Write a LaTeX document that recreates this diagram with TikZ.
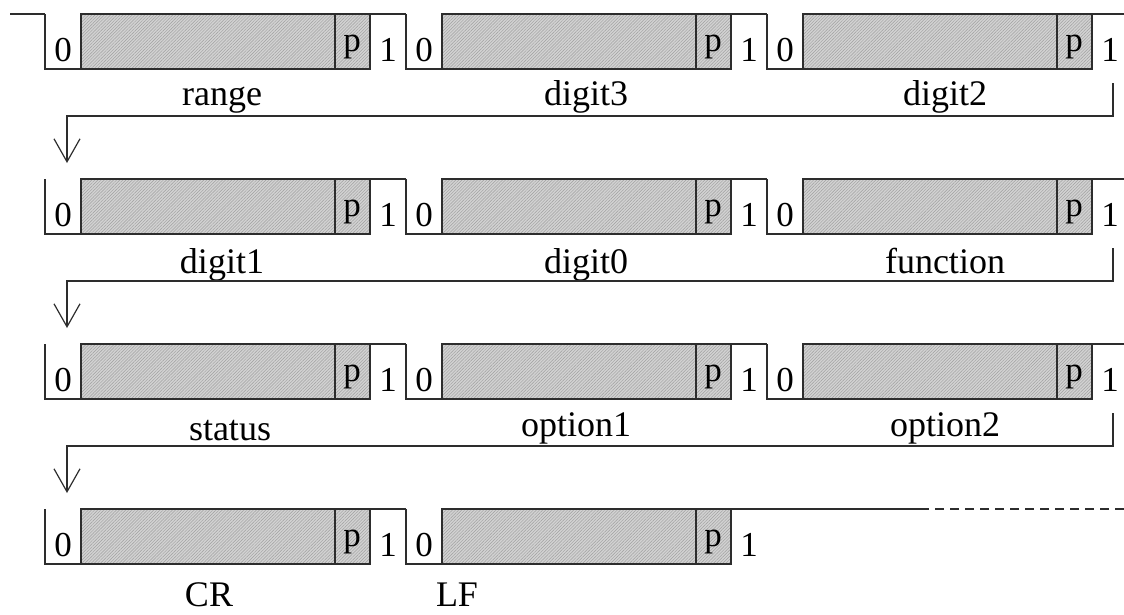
\documentclass[tikz,border=0pt]{standalone}
\usepackage{fontspec}
\setmainfont{Liberation Serif}
\usetikzlibrary{arrows.meta,patterns.meta}
\definecolor{hatchfill}{RGB}{210,210,210}
\definecolor{lin}{RGB}{45,45,45}
\begin{document}
\begin{tikzpicture}[x=1pt,y=-1pt,line width=1.2pt,
  wave/.style={draw=lin},
  databox/.style={draw=lin,preaction={fill=hatchfill},pattern={Lines[angle=45,distance=2.2pt,line width=0.45pt]},pattern color=gray!75},
  bit/.style={font=\fontsize{35}{40}\selectfont,anchor=base,inner sep=0pt},
  lbl/.style={font=\fontsize{36}{42}\selectfont,anchor=base,inner sep=0pt},
  ret/.style={draw=lin,-{Straight Barb[length=23pt,width=26pt,line width=1.2pt]}}]
\useasboundingbox (0,0) rectangle (1124,614);
% idle stub
\coordinate (idle) at (10,14);
\coordinate (s10) at (45,14);
\draw[wave] (idle) -- (s10);
% rows 1-3
\foreach \T [count=\r] in {14,179,344} {
  \foreach \k in {0,1,2} {
    \pgfmathsetmacro\dx{361*\k}
    \draw[wave] (45+\dx,\T) -- (45+\dx,\T+55) -- (81+\dx,\T+55);
    \draw[databox] (81+\dx,\T) rectangle (370+\dx,\T+55);
    \draw[wave] (335+\dx,\T) -- (335+\dx,\T+55);
    \node[bit] (z\r\k) at (63+\dx,\T+47) {0};
    \node[bit] (p\r\k) at (352+\dx,\T+37) {p};
    \node[bit] (o\r\k) at (388+\dx,\T+47) {1};
  }
  \draw[wave] (370,\T) -- (406,\T);
  \draw[wave] (731,\T) -- (767,\T);
  \draw[wave] (1092,\T) -- (1124,\T);
}
% row 4
\foreach \k in {0,1} {
  \pgfmathsetmacro\dx{361*\k}
  \draw[wave] (45+\dx,509) -- (45+\dx,564) -- (81+\dx,564);
  \draw[databox] (81+\dx,509) rectangle (370+\dx,564);
  \draw[wave] (335+\dx,509) -- (335+\dx,564);
  \node[bit] (z4\k) at (63+\dx,556) {0};
  \node[bit] (p4\k) at (352+\dx,546) {p};
  \node[bit] (o4\k) at (388+\dx,556) {1};
}
\draw[wave] (370,509) -- (406,509);
\coordinate (endA) at (731,509);
\coordinate (endB) at (920,509);
\coordinate (endC) at (1124,509);
\draw[wave] (endA) -- (endB);
\draw[wave,dash pattern=on 9pt off 6pt] (endB) -- (endC);
% labels
\node[lbl] (range) at (222,105) {range};
\node[lbl] (digit3) at (586,105) {digit3};
\node[lbl] (digit2) at (945,105) {digit2};
\node[lbl] (digit1) at (222,273) {digit1};
\node[lbl] (digit0) at (586,273) {digit0};
\node[lbl] (function) at (945,273) {function};
\node[lbl] (status) at (230,440) {status};
\node[lbl] (option1) at (576,436) {option1};
\node[lbl] (option2) at (945,436) {option2};
\node[lbl] (CR) at (209,606) {CR};
\node[lbl] (LF) at (457,606) {LF};
% return connectors
\foreach \B [count=\r] in {69,234,399} {
  \coordinate (ra\r) at (1113,\B+14);
  \coordinate (rb\r) at (67,\B+47);
  \coordinate (rc\r) at (67,\B+94);
  \draw[ret] (ra\r) |- (rb\r) -- (rc\r);
}
\end{tikzpicture}
\end{document}
